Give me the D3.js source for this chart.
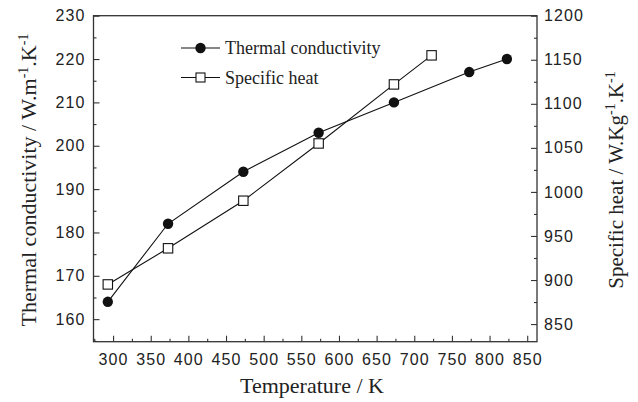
<!DOCTYPE html>
<html>
<head>
<meta charset="UTF-8">
<script src="https://d3js.org/d3.v7.min.js"></script>
<style>
  body { margin: 0; background: #fff; }
  text { fill: #222; }
</style>
</head>
<body>
<svg id="canvas"></svg>
<script>
  width = 638;
  height = 402;

  // data
  tempK = [293, 373, 473, 573, 673, 773, 823];
  conductivity = [164, 182, 194, 203, 210, 217, 220];
  tempCp = [293, 373, 473, 573, 673, 723];
  specificHeat = [895, 936, 990, 1055, 1122, 1155];
  xTicks = [300, 350, 400, 450, 500, 550, 600, 650, 700, 750, 800, 850];
  leftTicks = [160, 170, 180, 190, 200, 210, 220, 230];
  rightTicks = [850, 900, 950, 1000, 1050, 1100, 1150, 1200];

  margin = {left: 93.5, right: 101, top: 15.7, bottom: 60.3};
  x0 = margin.left, x1 = width - margin.right;
  y0 = height - margin.bottom, y1 = margin.top;

  x = d3.scaleLinear().domain([274, 863]).range([x0, x1]);
  yL = d3.scaleLinear().domain([154.8, 230]).range([y0, y1]);
  yR = d3.scaleLinear().domain([830, 1200]).range([y0, y1]);

  svg = d3.select("#canvas").attr("width", width).attr("height", height);

  axisColor = "#333";

  // frame
  svg.append("rect")
    .attr("x", x0).attr("y", y1)
    .attr("width", x1 - x0).attr("height", y0 - y1)
    .attr("fill", "none").attr("stroke", axisColor).attr("stroke-width", 1.3);

  function styleAxis(g) {
    g.select(".domain").remove();
    g.selectAll("line").attr("stroke", axisColor).attr("stroke-width", 1.1);
    g.selectAll("text")
      .attr("font-family", "'Liberation Sans', Arial, sans-serif")
      .attr("font-size", 16).attr("letter-spacing", 1.1).attr("fill", "#222");
  }

  // minor ticks
  minorX = d3.range(275, 863, 25).filter(v => v % 50 != 0);
  svg.append("g").attr("transform", `translate(0,${y0})`)
    .call(d3.axisBottom(x).tickValues(minorX).tickSize(-3).tickFormat(""))
    .call(styleAxis);
  svg.append("g").attr("transform", `translate(${x0},0)`)
    .call(d3.axisLeft(yL).tickValues(d3.range(155, 230, 10)).tickSize(-3).tickFormat(""))
    .call(styleAxis);
  svg.append("g").attr("transform", `translate(${x1},0)`)
    .call(d3.axisRight(yR).tickValues(d3.range(875, 1200, 50)).tickSize(-3).tickFormat(""))
    .call(styleAxis);

  // major ticks
  svg.append("g").attr("transform", `translate(0,${y0})`)
    .call(d3.axisBottom(x).tickValues(xTicks).tickSize(-6).tickPadding(12))
    .call(styleAxis);
  svg.append("g").attr("transform", `translate(${x0},0)`)
    .call(d3.axisLeft(yL).tickValues(leftTicks).tickSize(-6).tickPadding(8))
    .call(styleAxis);
  svg.append("g").attr("transform", `translate(${x1},0)`)
    .call(d3.axisRight(yR).tickValues(rightTicks).tickSize(-6).tickPadding(7).tickFormat(d3.format("d")))
    .call(styleAxis);

  serif = "'Liberation Serif', 'Times New Roman', serif";

  // axis titles
  svg.append("text")
    .attr("x", 312).attr("y", 393)
    .attr("text-anchor", "middle")
    .attr("font-family", serif).attr("font-size", 22)
    .text("Temperature / K");

  function unitLabel(sel, size, parts) {
    parts.forEach(p => {
      sel.append("tspan")
        .attr("dy", p.sup ? -8 : (p.after ? 8 : 0))
        .attr("font-size", p.sup ? 14 : size)
        .text(p.t);
    });
  }

  lt = svg.append("text")
    .attr("transform", `translate(36,180) rotate(-90)`)
    .attr("text-anchor", "middle")
    .attr("font-family", serif).attr("font-size", 22);
  unitLabel(lt, 22, [
    {t: "Thermal conductivity / W.m"}, {t: "-1", sup: true},
    {t: ".K", after: true}, {t: "-1", sup: true}
  ]);

  rt = svg.append("text")
    .attr("transform", `translate(623,180) rotate(-90)`)
    .attr("text-anchor", "middle")
    .attr("font-family", serif).attr("font-size", 21);
  unitLabel(rt, 21, [
    {t: "Specific heat / W.Kg"}, {t: "-1", sup: true},
    {t: ".K", after: true}, {t: "-1", sup: true}
  ]);

  // series
  tc = tempK.map((t, i) => [t, conductivity[i]]);
  cp = tempCp.map((t, i) => [t, specificHeat[i]]);

  svg.append("path").datum(tc)
    .attr("d", d3.line().x(d => x(d[0])).y(d => yL(d[1])))
    .attr("fill", "none").attr("stroke", "#111").attr("stroke-width", 1.1);
  svg.append("path").datum(cp)
    .attr("d", d3.line().x(d => x(d[0])).y(d => yR(d[1])))
    .attr("fill", "none").attr("stroke", "#111").attr("stroke-width", 1.1);

  svg.selectAll(".tc").data(tc).enter().append("circle")
    .attr("cx", d => x(d[0])).attr("cy", d => yL(d[1]))
    .attr("r", 5.2).attr("fill", "#111");
  svg.selectAll(".cp").data(cp).enter().append("rect")
    .attr("x", d => x(d[0]) - 4.7).attr("y", d => yR(d[1]) - 4.7)
    .attr("width", 9.4).attr("height", 9.4)
    .attr("fill", "#fff").attr("stroke", "#111").attr("stroke-width", 1.1);

  // legend
  legend = svg.append("g").attr("transform", "translate(181,48)");
  legend.append("line").attr("x1", 0).attr("x2", 39).attr("y1", 0).attr("y2", 0)
    .attr("stroke", "#111").attr("stroke-width", 1.1);
  legend.append("circle").attr("cx", 19.5).attr("cy", 0).attr("r", 5.2).attr("fill", "#111");
  legend.append("text").attr("x", 44).attr("y", 6)
    .attr("font-family", serif).attr("font-size", 18).text("Thermal conductivity");
  legend.append("line").attr("x1", 0).attr("x2", 39).attr("y1", 29.5).attr("y2", 29.5)
    .attr("stroke", "#111").attr("stroke-width", 1.1);
  legend.append("rect").attr("x", 15).attr("y", 25).attr("width", 9).attr("height", 9)
    .attr("fill", "#fff").attr("stroke", "#111").attr("stroke-width", 1.1);
  legend.append("text").attr("x", 44).attr("y", 35.5)
    .attr("font-family", serif).attr("font-size", 18).text("Specific heat");
</script>
</body>
</html>
